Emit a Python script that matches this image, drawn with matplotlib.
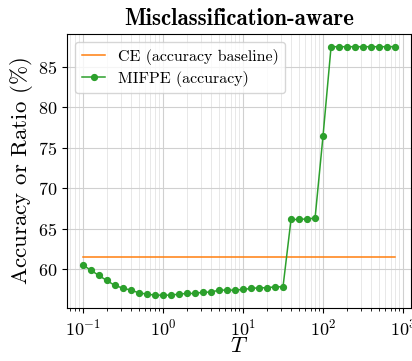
import numpy as np
import matplotlib
matplotlib.use("Agg")
import matplotlib.pyplot as plt

plt.rcParams["font.family"] = "serif"
plt.rcParams["font.serif"] = ["cmr10"]
plt.rcParams["mathtext.fontset"] = "cm"
plt.rcParams["axes.formatter.use_mathtext"] = True
plt.rcParams["axes.unicode_minus"] = False

# temperature grid, 10 steps per decade
log_T = [-1.0, -0.9, -0.8, -0.7, -0.6, -0.5, -0.4, -0.3, -0.2, -0.1,
         0.0, 0.1, 0.2, 0.3, 0.4, 0.5, 0.6, 0.7, 0.8, 0.9,
         1.0, 1.1, 1.2, 1.3, 1.4, 1.5, 1.6, 1.7, 1.8, 1.9,
         2.0, 2.1, 2.2, 2.3, 2.4, 2.5, 2.6, 2.7, 2.8, 2.9]
T = 10.0 ** np.array(log_T)

ce_acc = 61.5
mifpe_acc = [60.55, 59.92, 59.26, 58.64, 58.03, 57.70, 57.45, 57.12, 56.96, 56.83,
             56.83, 56.83, 56.96, 57.04, 57.04, 57.20, 57.20, 57.45, 57.45, 57.45,
             57.53, 57.66, 57.74, 57.74, 57.86, 57.86, 66.17, 66.17, 66.25, 66.33,
             76.53, 87.5, 87.5, 87.5, 87.5, 87.5, 87.5, 87.5, 87.5, 87.5]

fig = plt.figure(figsize=(4.12, 3.61), dpi=100)
ax = fig.add_axes([0.163, 0.148, 0.834, 0.757])

ax.plot(T, [ce_acc] * len(T), color="tab:orange", lw=1.1, label="CE (accuracy baseline)")
ax.plot(T, mifpe_acc, color="tab:green", lw=1.1, marker="o", ms=4.2,
        label="MIFPE (accuracy)")

ax.set_xscale("log")
ax.grid(True, which="major", color="#d0d0d0", lw=0.8)
ax.grid(True, which="minor", axis="x", color="#e8e8e8", lw=0.7)
ax.set_axisbelow(True)

ax.set_title("Misclassification-aware", fontsize=16.5, family="cmb10", pad=7)
ax.set_xlabel("$T$", fontsize=16.5, labelpad=-1)
ax.set_ylabel(r"Accuracy or Ratio $\mathrm{(\%)}$", fontsize=16.5, labelpad=2)
ax.tick_params(labelsize=13)
ax.set_yticks([60, 65, 70, 75, 80, 85])

ax.legend(loc="upper left", fontsize=11.5, handlelength=1.5, labelspacing=0.4,
          framealpha=0.8)

fig.savefig("out.png", dpi=100)
